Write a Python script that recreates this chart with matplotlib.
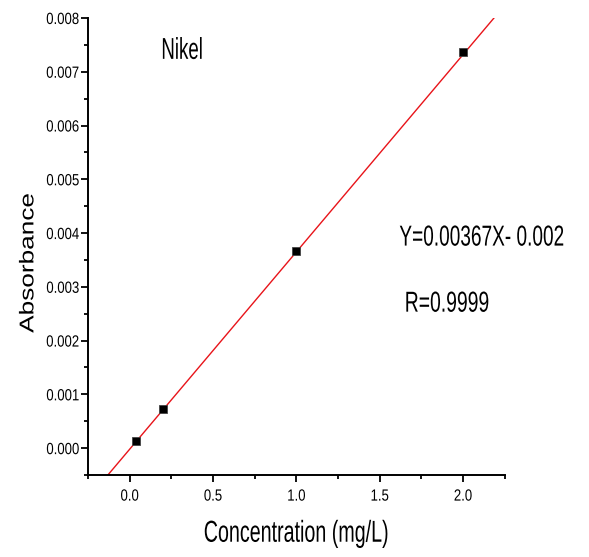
import matplotlib
matplotlib.use("Agg")
import matplotlib.pyplot as plt
from matplotlib.ticker import MultipleLocator, FormatStrFormatter
from matplotlib.patheffects import AbstractPathEffect
from matplotlib.transforms import Affine2D

plt.rcParams['font.family'] = ['Liberation Sans', 'DejaVu Sans']

# calibration standards for nickel
conc = [0.04, 0.2, 1.0, 2.0]
absorb = [0.00014, 0.00073, 0.00367, 0.00736]

# linear fit
slope = 0.00367
intercept = -0.00002


class Squeeze(AbstractPathEffect):
    """Scale glyph outlines along the text direction (narrow type)."""

    def __init__(self, k, anchor=0.5):
        super().__init__()
        self.k = k
        self.anchor = anchor

    def draw_path(self, renderer, gc, tpath, affine, rgbFace=None):
        xs = tpath.vertices[:, 0]
        if len(xs) == 0:
            return
        x0 = xs.min() + self.anchor * (xs.max() - xs.min())
        sq = Affine2D().translate(-x0, 0).scale(self.k, 1).translate(x0, 0)
        renderer.draw_path(gc, tpath, sq + affine, rgbFace)


fig = plt.figure(figsize=(5.89, 5.57), dpi=100)
ax = fig.add_axes([0.1494, 0.1472, 0.7076, 0.8205])

xs = [-0.25, 2.25]
ax.plot(xs, [slope * x + intercept for x in xs], color='#e8141a', lw=1.0, zorder=2)
ax.plot(conc, absorb, 's', color='black', markersize=5.2, markeredgecolor='#444444',
        markeredgewidth=0.6, zorder=3)

ax.set_xlim(-0.25, 2.25)
ax.set_ylim(-0.0005, 0.008)

for s in ['top', 'right']:
    ax.spines[s].set_visible(False)
for s in ['left', 'bottom']:
    ax.spines[s].set_linewidth(1.4)

ax.xaxis.set_major_locator(MultipleLocator(0.5))
ax.xaxis.set_minor_locator(MultipleLocator(0.25))
ax.yaxis.set_major_locator(MultipleLocator(0.001))
ax.yaxis.set_minor_locator(MultipleLocator(0.0005))
ax.xaxis.set_major_formatter(FormatStrFormatter('%.1f'))
ax.yaxis.set_major_formatter(FormatStrFormatter('%.3f'))
ax.tick_params(which='major', length=4.8, width=1.3, labelsize=11.7)
ax.tick_params(which='minor', length=2.6, width=1.3)
ax.tick_params(axis='x', pad=5)
ax.tick_params(axis='y', pad=1.5)
for lbl in ax.get_xticklabels():
    lbl.set_path_effects([Squeeze(0.81, 0.5)])
for lbl in ax.get_yticklabels():
    lbl.set_path_effects([Squeeze(0.81, 1.0)])

ax.set_xlabel('Concentration (mg/L)', fontsize=21.8, va='baseline',
              path_effects=[Squeeze(0.65, 0.5)])
ax.xaxis.set_label_coords(0.5, -0.146)
ax.set_ylabel('Absorbance', fontsize=14.4, va='baseline',
              path_effects=[Squeeze(1.31, 0.5)])
ax.yaxis.set_label_coords(-0.131, 0.464)

ax.text(0.19, 0.00724, 'Nikel', fontsize=21.7, ha='left', va='baseline',
        path_effects=[Squeeze(0.62, 0.0)])
ax.text(2.61, 0.003767, 'Y=0.00367X- 0.002', fontsize=20.8, ha='right', va='baseline',
        path_effects=[Squeeze(0.66, 1.0)])
ax.text(1.65, 0.002538, 'R=0.9999', fontsize=20.8, ha='left', va='baseline',
        path_effects=[Squeeze(0.67, 0.0)])

fig.savefig('out.png', dpi=100)
